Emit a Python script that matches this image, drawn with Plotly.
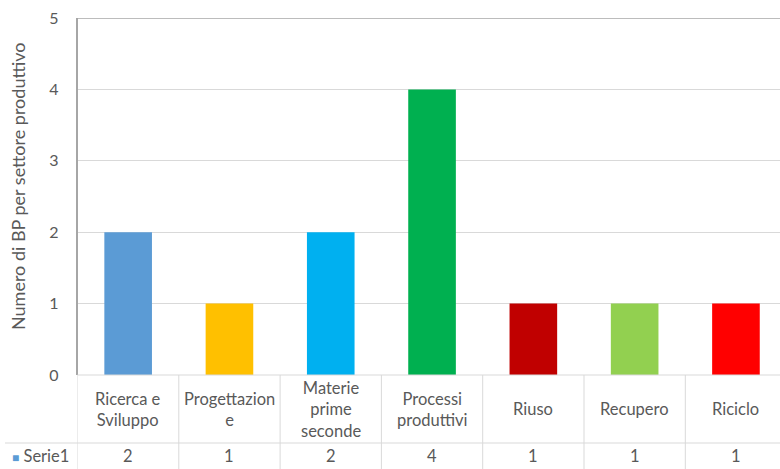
import plotly.graph_objects as go

categories = ["Ricerca e<br>Sviluppo", "Progettazion<br>e", "Materie<br>prime<br>seconde",
              "Processi<br>produttivi", "Riuso", "Recupero", "Riciclo"]
values = [2, 1, 2, 4, 1, 1, 1]
colors = ["#5B9BD5", "#FFC000", "#00B0F0", "#00B050", "#C00000", "#92D050", "#FF0000"]
series_name = "Serie1"
y_title = "Numero di BP per settore produttivo"
y_ticks = [0, 1, 2, 3, 4, 5]

W, H = 780, 469
FONT = "Lato, 'Open Sans', sans-serif"
TXT = "#595959"
GRID = "#d9d9d9"

x_idx = list(range(len(categories)))

fig = go.Figure()
fig.add_trace(go.Bar(x=x_idx, y=values, marker=dict(color=colors, line=dict(width=0)),
                     width=0.47, showlegend=False, hoverinfo="skip"))

def py(p):
    return 1 - p / H

left_px = 77.5
cat_w = 101.3
x_hi = -0.5 + (W - left_px) / cat_w

shapes = []
# top darker border at max
shapes.append(dict(type="line", xref="paper", yref="y", x0=left_px / W, x1=1, y0=5, y1=5,
                   line=dict(color="#a6a6a6", width=1.5)))
# table horizontal lines
shapes.append(dict(type="line", xref="paper", yref="paper", x0=left_px / W, x1=1, y0=py(375), y1=py(375),
                   line=dict(color=GRID, width=1)))
shapes.append(dict(type="line", xref="paper", yref="paper", x0=5 / W, x1=1, y0=py(443), y1=py(443),
                   line=dict(color=GRID, width=1)))
# vertical table lines at category boundaries
for i in range(len(categories) + 1):
    shapes.append(dict(type="line", xref="x", yref="paper", x0=i - 0.5, x1=i - 0.5,
                       y0=py(375), y1=0, line=dict(color=GRID, width=1)))

annotations = []
for i, (c, v) in enumerate(zip(categories, values)):
    annotations.append(dict(x=i, y=py(409), xref="x", yref="paper", text=c, showarrow=False,
                            font=dict(family=FONT, size=16.5, color=TXT), xanchor="center", yanchor="middle"))
    annotations.append(dict(x=i, y=py(456), xref="x", yref="paper", text=str(v), showarrow=False,
                            font=dict(family=FONT, size=16.5, color=TXT), xanchor="center", yanchor="middle"))
annotations.append(dict(x=10 / W, y=py(456), xref="paper", yref="paper",
                        text='<span style="color:#5B9BD5;font-size:12px">■</span> ' + series_name,
                        showarrow=False, font=dict(family=FONT, size=16.5, color=TXT),
                        xanchor="left", yanchor="middle"))
annotations.append(dict(x=18 / W, y=py(187), xref="paper", yref="paper", text=y_title, textangle=-90,
                        showarrow=False, font=dict(family=FONT, size=18, color=TXT),
                        xanchor="center", yanchor="middle"))

fig.update_layout(
    width=W, height=H,
    margin=dict(l=0, r=0, t=0, b=0, autoexpand=False),
    paper_bgcolor="white", plot_bgcolor="white",
    shapes=shapes, annotations=annotations,
    xaxis=dict(domain=[left_px / W, 1], range=[-0.5, x_hi], showticklabels=False, showgrid=False,
               zeroline=False, showline=False, ticks="", automargin=False),
    yaxis=dict(domain=[py(375), py(18)], range=[0, 5], tickvals=y_ticks, showgrid=True, gridcolor=GRID,
               zeroline=False, showline=True, linecolor="#a6a6a6", linewidth=1.5,
               ticks="outside", ticklen=14, tickcolor="rgba(0,0,0,0)", automargin=False,
               tickfont=dict(family=FONT, size=16, color=TXT)),
    bargap=0.53,
)

fig.write_html("out.html", config={"displayModeBar": False},
               post_script="document.body.style.margin='0';document.body.style.overflow='hidden';")
